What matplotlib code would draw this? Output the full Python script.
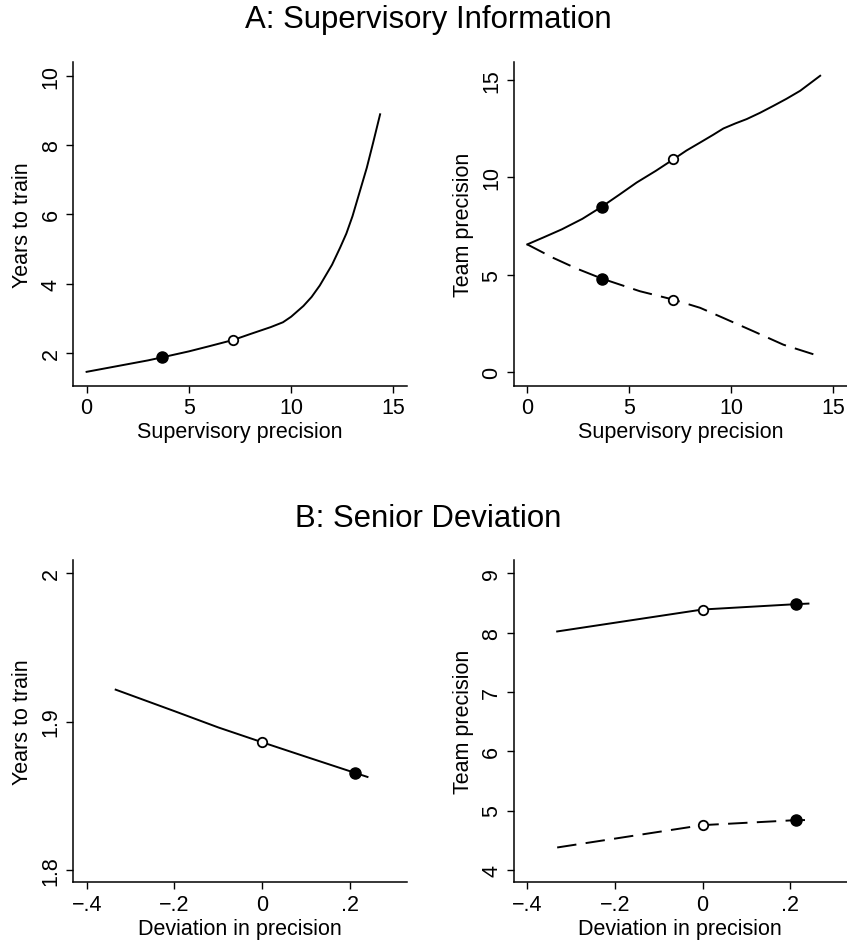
import matplotlib
matplotlib.use("Agg")
import matplotlib.pyplot as plt

plt.rcParams['font.family'] = ['Liberation Sans', 'DejaVu Sans']

# ---------------- Panel A data ----------------
a_sup_x = [0, 1, 2, 3, 3.67, 5, 6, 7.17, 8, 9, 9.6, 10, 10.6, 11, 11.4, 12, 12.4, 12.7, 13, 13.4, 13.7, 14, 14.35]
a_years = [1.46, 1.57, 1.68, 1.79, 1.875, 2.05, 2.2, 2.38, 2.55, 2.75, 2.89, 3.05, 3.36, 3.62, 3.95, 4.55, 5.05, 5.45, 5.95, 6.75, 7.35, 8.05, 8.89]
a_years_filled = (3.67, 1.875)
a_years_open = (7.17, 2.38)

a_team_hi_x = [0, 0.8, 1.69, 2.7, 3.65, 4.5, 5.36, 6.3, 7.16, 7.8, 8.47, 9.1, 9.61, 10.2, 10.75, 11.4, 12.06, 12.7, 13.37, 14.35]
a_team_hi = [6.56, 6.92, 7.33, 7.87, 8.49, 9.1, 9.73, 10.33, 10.92, 11.37, 11.78, 12.17, 12.5, 12.76, 12.98, 13.3, 13.66, 14.02, 14.43, 15.2]
a_team_lo_x = [0, 1.27, 2.4, 3.65, 5.52, 7.16, 8.47, 9.61, 10.3, 11.08, 12.55, 14.35]
a_team_lo = [6.56, 5.87, 5.33, 4.81, 4.16, 3.73, 3.31, 2.79, 2.47, 2.11, 1.42, 0.82]
a_hi_filled = (3.65, 8.49)
a_hi_open = (7.16, 10.92)
a_lo_filled = (3.65, 4.81)
a_lo_open = (7.16, 3.73)

# ---------------- Panel B data ----------------
b_dev_x = [-0.334, -0.2, -0.1, 0, 0.1, 0.212, 0.24]
b_years = [1.9215, 1.907, 1.896, 1.886, 1.8762, 1.8653, 1.8626]
b_years_open = (0, 1.886)
b_years_filled = (0.212, 1.8653)

b_team_hi_x = [-0.332, 0, 0.213, 0.242]
b_team_hi = [8.02, 8.39, 8.48, 8.49]
b_team_lo_x = [-0.332, 0, 0.213, 0.242]
b_team_lo = [4.377, 4.754, 4.838, 4.84]
b_hi_open = (0, 8.39)
b_hi_filled = (0.213, 8.48)
b_lo_open = (0, 4.754)
b_lo_filled = (0.213, 4.838)

a_xticks = [0, 5, 10, 15]
a_xticklabels = ["0", "5", "10", "15"]
b_xticks = [-0.4, -0.2, 0, 0.2]
b_xticklabels = ["\u2212.4", "\u2212.2", "0", ".2"]

fig = plt.figure(figsize=(8.47, 9.45), dpi=100)

W, H = 847.0, 945.0
def add_ax(l, r, t, b):
    return fig.add_axes([l / W, 1 - b / H, (r - l) / W, (b - t) / H])

axA1 = add_ax(73.3, 406.7, 63.3, 386.7)
axA2 = add_ax(514, 846.7, 63.3, 386.7)
axB1 = add_ax(73.3, 406.7, 560.7, 883.3)
axB2 = add_ax(514, 846.7, 560.7, 883.3)

FS = 15.5
LW = 1.4
DASH = (10, 4.8)

def style(ax, xticks, xlabels, yticks, ylabels, xlim, ylim, xlabel, ylabel):
    for s in ['top', 'right']:
        ax.spines[s].set_visible(False)
    for s in ['left', 'bottom']:
        ax.spines[s].set_linewidth(1.1)
    ax.set_xlim(*xlim)
    ax.set_ylim(*ylim)
    ax.set_xticks(xticks)
    ax.set_xticklabels(xlabels, fontsize=FS)
    ax.set_yticks(yticks)
    ax.set_yticklabels(ylabels, fontsize=FS, rotation=90, va='center')
    ax.tick_params(direction='out', length=4.8, width=1.0, pad=3.6)
    ax.set_xlabel(xlabel, fontsize=FS, va='center')
    ax.xaxis.set_label_coords(0.5, -0.143)
    ax.set_ylabel(ylabel, fontsize=FS, va='center')
    ax.yaxis.set_label_coords(-0.153, 0.5)

def filled(ax, p):
    ax.plot([p[0]], [p[1]], 'o', color='black', markersize=8, zorder=5)

def opened(ax, p):
    ax.plot([p[0]], [p[1]], 'o', markerfacecolor='white', markeredgecolor='black',
            markersize=6.8, markeredgewidth=1.3, zorder=5)

# A left
axA1.plot(a_sup_x, a_years, color='black', lw=LW)
filled(axA1, a_years_filled)
opened(axA1, a_years_open)
style(axA1, a_xticks, a_xticklabels, [2, 4, 6, 8, 10], ["2", "4", "6", "8", "10"],
      (-0.65, 15.65), (1.06, 10.39), "Supervisory precision", "Years to train")

# A right
axA2.plot(a_team_hi_x, a_team_hi, color='black', lw=LW)
axA2.plot(a_team_lo_x, a_team_lo, color='black', lw=LW, dashes=DASH)
filled(axA2, a_hi_filled)
opened(axA2, a_hi_open)
filled(axA2, a_lo_filled)
opened(axA2, a_lo_open)
style(axA2, a_xticks, a_xticklabels, [0, 5, 10, 15], ["0", "5", "10", "15"],
      (-0.65, 15.65), (-0.68, 15.89), "Supervisory precision", "Team precision")

# B left
axB1.plot(b_dev_x, b_years, color='black', lw=LW)
opened(axB1, b_years_open)
filled(axB1, b_years_filled)
style(axB1, b_xticks, b_xticklabels, [1.8, 1.9, 2.0], ["1.8", "1.9", "2"],
      (-0.4306, 0.3294), (1.7915, 2.0092), "Deviation in precision", "Years to train")

# B right
axB2.plot(b_team_hi_x, b_team_hi, color='black', lw=LW)
axB2.plot(b_team_lo_x, b_team_lo, color='black', lw=LW, dashes=DASH)
opened(axB2, b_hi_open)
filled(axB2, b_hi_filled)
opened(axB2, b_lo_open)
filled(axB2, b_lo_filled)
style(axB2, b_xticks, b_xticklabels, [4, 5, 6, 7, 8, 9], ["4", "5", "6", "7", "8", "9"],
      (-0.4306, 0.3294), (3.79, 9.23), "Deviation in precision", "Team precision")

fig.text(0.5055, 1 - 28.3 / H, "A: Supervisory Information", fontsize=22.4, ha='center', va='baseline')
fig.text(0.5055, 1 - 526.7 / H, "B: Senior Deviation", fontsize=22.4, ha='center', va='baseline')

fig.savefig("out.png", dpi=100)
